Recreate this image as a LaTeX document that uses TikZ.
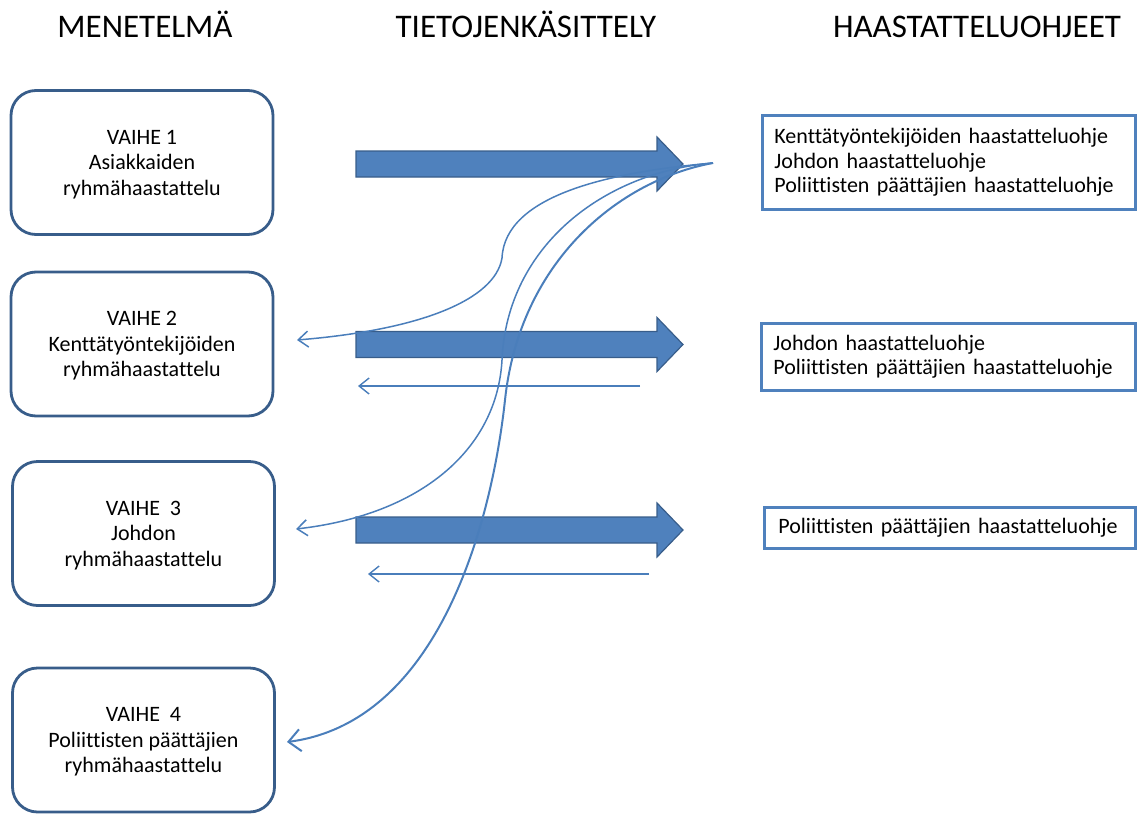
\documentclass[tikz,border=0pt]{standalone}
\usepackage{fontspec}
\setmainfont{Carlito}[Ligatures=NoCommon]
\usetikzlibrary{arrows.meta}
\definecolor{boxblue}{HTML}{385D8A}
\definecolor{fillblue}{HTML}{4F81BD}
\definecolor{lineblue}{HTML}{4A7EBB}
\begin{document}
\begin{tikzpicture}[x=1pt,y=-1pt,
  header/.style={anchor=base, font=\fontsize{33}{38}\selectfont, inner sep=0pt},
  phase/.style={draw=boxblue, line width=2.8pt, rounded corners=25pt,
    minimum width=262pt, minimum height=144pt, align=center, text depth=0pt,
    font=\fontsize{22}{25.5}\selectfont, inner sep=0pt},
  guide/.style={draw=fillblue, line width=2.8pt, anchor=north west, align=left,
    font=\fontsize{22}{24.5}\selectfont, inner xsep=12pt, inner ysep=0pt},
  back/.style={draw=lineblue, line width=1.4pt, -{Straight Barb[length=10pt,width=16pt]}},
  feed/.style={draw=lineblue, line width=1.5pt, -{Straight Barb[length=10pt,width=16pt]}},
  feedbig/.style={draw=lineblue, line width=2pt, -{Straight Barb[length=12pt,width=22pt]}},
  bigarr/.pic={\draw[fill=fillblue, draw=boxblue, line width=1.2pt, line join=miter]
    (0,-13) -- (301,-13) -- (301,-27) -- (327,0) -- (301,27) -- (301,13) -- (0,13) -- cycle;}
]
\useasboundingbox (0,0) rectangle (1137,814);

% headers
\node[header] (hm) at (145,37) {MENETELMÄ};
\node[header] (ht) at (526,37) {TIETOJENKÄSITTELY};
\node[header] (hh) at (977,37) {HAASTATTELUOHJEET};

% phase boxes
\node[phase] (v1) at (142,162.5) {VAIHE 1\\Asiakkaiden\\ryhmähaastattelu};
\node[phase] (v2) at (142,344) {VAIHE 2\\Kenttätyöntekijöiden\\ryhmähaastattelu};
\node[phase] (v3) at (143.5,533.5) {VAIHE \ 3\\Johdon\\ryhmähaastattelu};
\node[phase] (v4) at (143.5,740) {VAIHE \ 4\\Poliittisten päättäjien\\ryhmähaastattelu};

% guide boxes
\node[guide, minimum width=373pt, minimum height=94pt, text width=349pt] (g1) at (761,114)
  {Kenttätyöntekijöiden haastatteluohje\\Johdon haastatteluohje\\Poliittisten päättäjien haastatteluohje};
\node[guide, minimum width=374pt, minimum height=67pt, text width=350pt] (g2) at (760,322)
  {Johdon haastatteluohje\\Poliittisten päättäjien haastatteluohje};
\node[guide, minimum width=371pt, minimum height=41pt, text width=343pt, inner xsep=14pt] (g3) at (763,506)
  {Poliittisten päättäjien haastatteluohje};

% thick arrows
\pic at (356,164) {bigarr};
\pic at (356,344.5) {bigarr};
\pic at (356,530) {bigarr};

% coordinates for free ends
\coordinate (src) at (713,163);
\coordinate (t2) at (297,340);
\coordinate (t3) at (296,529);
\coordinate (t4) at (287,742);
\coordinate (b1s) at (640,386);
\coordinate (b1e) at (358,386);
\coordinate (b2s) at (649,574);
\coordinate (b2e) at (368,574);

% back arrows
\draw[back] (b1s) -- (b1e);
\draw[back] (b2s) -- (b2e);

% feedback curves
\draw[feed] (src) .. controls (610,172) and (505,195) .. (502,258)
  .. controls (495,300) and (420,330) .. (t2);
\draw[feed] (src) .. controls (605,172) and (507,245) .. (502,360)
  .. controls (497,450) and (420,515) .. (t3);
\draw[feedbig] (src) .. controls (620,180) and (520,260) .. (505,400)
  .. controls (492,520) and (440,722) .. (t4);
\end{tikzpicture}
\end{document}
